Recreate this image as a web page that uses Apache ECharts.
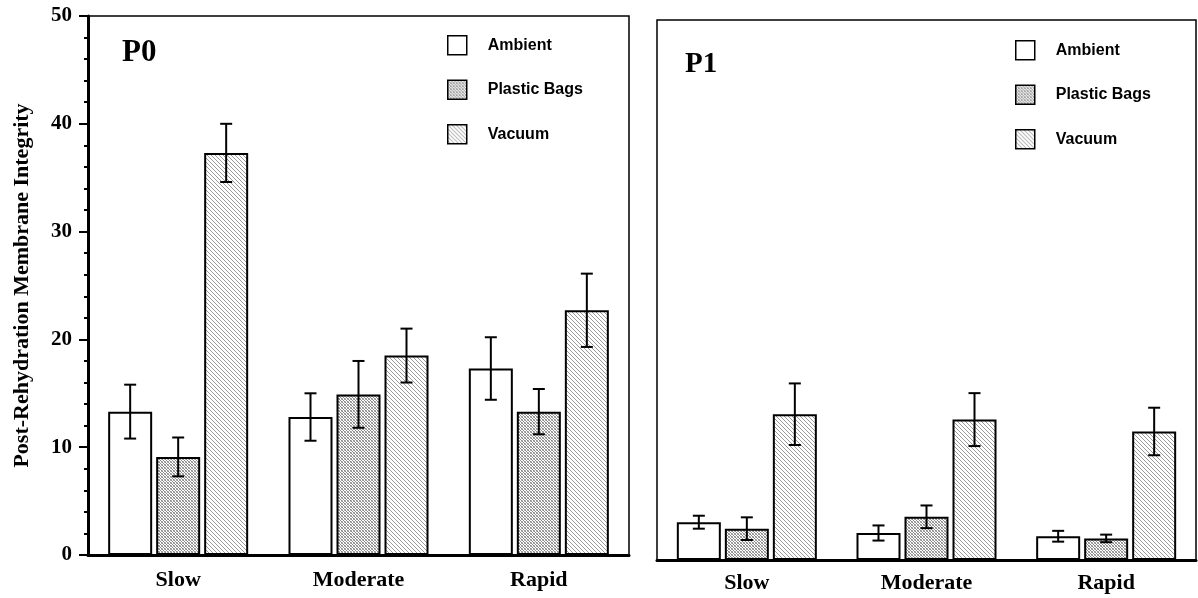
<!DOCTYPE html>
<html>
<head>
<meta charset="utf-8">
<script src="https://cdn.jsdelivr.net/npm/echarts@6/dist/echarts.min.js"></script>
<style>
  html, body { margin: 0; padding: 0; background: #fff; }
  #chart { width: 1198px; height: 598px; }
</style>
</head>
<body>
<div id="chart"></div>
<script>
// Storage treatments and drying speeds
const categories = ['Slow', 'Moderate', 'Rapid'];
const seriesNames = ['Ambient', 'Plastic Bags', 'Vacuum'];
const yTicks = [0, 10, 20, 30, 40, 50];

// P0 means and error half-widths
const p0Ambient = [13.3, 12.8, 17.3];
const p0Plastic = [9.1, 14.9, 13.3];
const p0Vacuum  = [37.3, 18.5, 22.7];
const p0AmbientErr = [2.5, 2.2, 2.9];
const p0PlasticErr = [1.8, 3.1, 2.1];
const p0VacuumErr  = [2.7, 2.5, 3.4];

// P1 means and error half-widths
const p1Ambient = [3.5, 2.5, 2.2];
const p1Plastic = [2.9, 4.0, 2.0];
const p1Vacuum  = [13.5, 13.0, 11.9];
const p1AmbientErr = [0.6, 0.7, 0.5];
const p1PlasticErr = [1.05, 1.05, 0.35];
const p1VacuumErr  = [2.85, 2.45, 2.2];

// Fill textures
function makePattern(size, draw) {
  const c = document.createElement('canvas');
  c.width = size; c.height = size;
  const ctx = c.getContext('2d');
  ctx.fillStyle = '#ffffff';
  ctx.fillRect(0, 0, size, size);
  draw(ctx, size);
  return { image: c, repeat: 'repeat' };
}
// fine cross-hatch (darker)
const crossFill = makePattern(3, (ctx, s) => {
  ctx.fillStyle = '#8a8a8a';
  ctx.fillRect(0, 0, 1, 1);
  ctx.fillRect(1, 1, 1, 1);
  ctx.fillRect(2, 2, 1, 1);
  ctx.fillStyle = '#b4b4b4';
  ctx.fillRect(2, 0, 1, 1);
  ctx.fillRect(0, 2, 1, 1);
});
// fine diagonal lines (lighter)
const diagFill = makePattern(4, (ctx, s) => {
  ctx.fillStyle = '#9a9a9a';
  for (let i = 0; i < s; i++) ctx.fillRect(i, i, 1, 1);
});

const fills = ['#ffffff', crossFill, diagFill];
const BAR_W = 44;
const offsets = [-48, 0, 48];
const serif = 'Liberation Serif, Times New Roman, serif';
const sans = 'Liberation Sans, Arial, sans-serif';

function barSeries(name, idx, values, gi) {
  return {
    name: name,
    type: 'bar',
    xAxisIndex: gi, yAxisIndex: gi,
    data: values,
    barWidth: BAR_W,
    barGap: '9.1%',
    itemStyle: { color: fills[idx], borderColor: '#000', borderWidth: 2 },
    emphasis: { disabled: true }
  };
}

function errSeries(idx, values, errs, gi) {
  const off = offsets[idx];
  return {
    type: 'custom',
    xAxisIndex: gi, yAxisIndex: gi,
    data: values.map((v, i) => [i, v, errs[i]]),
    z: 5,
    silent: true,
    renderItem: function (params, api) {
      const i = api.value(0), v = api.value(1), e = api.value(2);
      const hi = api.coord([i, v + e]);
      const lo = api.coord([i, v - e]);
      const x = hi[0] + off;
      const cap = 6;
      const st = { stroke: '#000', lineWidth: 2 };
      return {
        type: 'group',
        children: [
          { type: 'line', shape: { x1: x, y1: hi[1], x2: x, y2: lo[1] }, style: st },
          { type: 'line', shape: { x1: x - cap, y1: hi[1], x2: x + cap, y2: hi[1] }, style: st },
          { type: 'line', shape: { x1: x - cap, y1: lo[1], x2: x + cap, y2: lo[1] }, style: st }
        ]
      };
    }
  };
}

const chart = echarts.init(document.getElementById('chart'), null, { renderer: 'canvas' });

const legendBase = {
  orient: 'vertical',
  icon: 'rect',
  padding: 0,
  itemWidth: 19,
  itemHeight: 19,
  itemGap: 24,
  selectedMode: false,
  data: seriesNames,
  textStyle: { fontFamily: sans, fontWeight: 'bold', fontSize: 16, color: '#000', padding: [0, 0, 0, 16] },
  itemStyle: { borderColor: '#000', borderWidth: 1.5 }
};

const xAxisBase = {
  type: 'category',
  data: categories,
  axisLine: { lineStyle: { color: '#000', width: 3 } },
  axisTick: { alignWithLabel: true, length: 8, lineStyle: { color: '#000', width: 2 } },
  axisLabel: { fontFamily: serif, fontWeight: 'bold', fontSize: 22, color: '#000' },
  splitLine: { show: false }
};

const option = {
  animation: false,
  backgroundColor: '#fff',
  grid: [
    { left: 88, top: 16, width: 541, height: 539, show: true, borderColor: '#000', borderWidth: 1.5, containLabel: false },
    { left: 657, top: 20, width: 539, height: 540, show: true, borderColor: '#000', borderWidth: 1.5, containLabel: false }
  ],
  legend: [
    Object.assign({}, legendBase, { left: 447, top: 35 }),
    Object.assign({}, legendBase, { left: 1015, top: 40 })
  ],
  xAxis: [
    Object.assign({}, xAxisBase, { gridIndex: 0, axisLabel: Object.assign({}, xAxisBase.axisLabel, { margin: 14 }) }),
    Object.assign({}, xAxisBase, { gridIndex: 1, axisLabel: Object.assign({}, xAxisBase.axisLabel, { margin: 12 }) })
  ],
  yAxis: [
    {
      gridIndex: 0,
      type: 'value',
      min: yTicks[0], max: yTicks[yTicks.length - 1], interval: 10,
      name: 'Post-Rehydration Membrane Integrity',
      nameLocation: 'middle',
      nameGap: 55,
      nameTextStyle: { fontFamily: serif, fontWeight: 'bold', fontSize: 22, color: '#000' },
      axisLine: { show: true, lineStyle: { color: '#000', width: 3 } },
      axisTick: { show: true, length: 9, lineStyle: { color: '#000', width: 2 } },
      minorTick: { show: true, splitNumber: 5, length: 4, lineStyle: { color: '#000', width: 2 } },
      axisLabel: { fontFamily: serif, fontWeight: 'bold', fontSize: 21, color: '#000', margin: 16 },
      splitLine: { show: false }
    },
    {
      gridIndex: 1,
      type: 'value',
      min: yTicks[0], max: yTicks[yTicks.length - 1], interval: 10,
      show: false,
      splitLine: { show: false }
    }
  ],
  graphic: [
    { type: 'text', left: 122, top: 37, style: { text: 'P0', font: 'bold 31px ' + serif, fill: '#000' } },
    { type: 'text', left: 685, top: 50, style: { text: 'P1', font: 'bold 29px ' + serif, fill: '#000' } }
  ],
  series: [
    barSeries('Ambient', 0, p0Ambient, 0),
    barSeries('Plastic Bags', 1, p0Plastic, 0),
    barSeries('Vacuum', 2, p0Vacuum, 0),
    barSeries('Ambient', 0, p1Ambient, 1),
    barSeries('Plastic Bags', 1, p1Plastic, 1),
    barSeries('Vacuum', 2, p1Vacuum, 1),
    errSeries(0, p0Ambient, p0AmbientErr, 0),
    errSeries(1, p0Plastic, p0PlasticErr, 0),
    errSeries(2, p0Vacuum, p0VacuumErr, 0),
    errSeries(0, p1Ambient, p1AmbientErr, 1),
    errSeries(1, p1Plastic, p1PlasticErr, 1),
    errSeries(2, p1Vacuum, p1VacuumErr, 1)
  ]
};

chart.setOption(option);
</script>
</body>
</html>
